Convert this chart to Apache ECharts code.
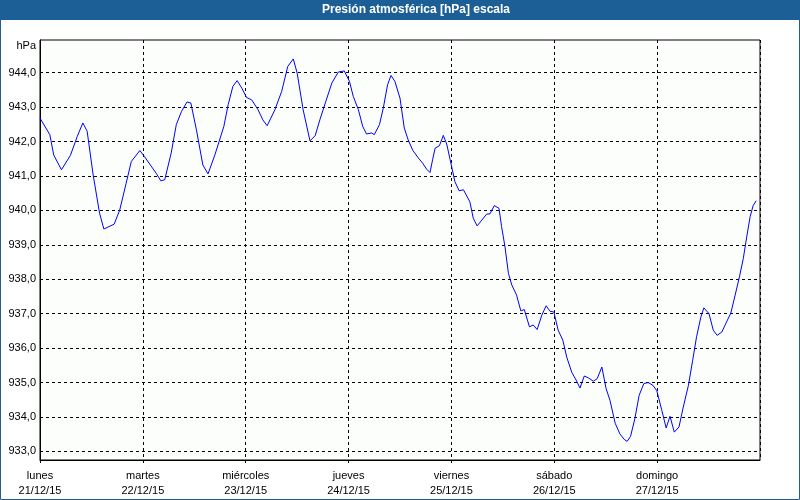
<!DOCTYPE html>
<html>
<head>
<meta charset="utf-8">
<script src="https://cdn.jsdelivr.net/npm/echarts@6/dist/echarts.min.js"></script>
<style>
html,body{margin:0;padding:0;background:#fff;}
#c{width:800px;height:500px;}
</style>
</head>
<body>
<div id="c"></div>
<script>
// Hours since Monday 21/12/15 00:00
var hours = [0, 2.3, 3.2, 5.0, 7.1, 8.7, 10.0, 11.0, 12.4, 13.9, 14.9, 17.3, 18.6, 20.1, 21.3, 23.3, 24.4, 27.1, 28.2, 29.1, 30.6, 31.8, 33.0, 34.3, 35.2, 36.5, 38.0, 39.2, 40.8, 42.9, 43.9, 45.0, 46.0, 47.1, 48.2, 49.4, 50.9, 52.0, 53.0, 54.8, 56.4, 57.8, 59.1, 60.0, 61.4, 63.0, 64.2, 65.3, 66.7, 68.1, 69.6, 71.0, 72.2, 73.1, 74.3, 75.3, 76.2, 77.4, 78.0, 79.2, 80.1, 81.1, 81.9, 82.8, 84.0, 85.0, 85.9, 87.0, 88.3, 89.3, 90.2, 91.0, 91.6, 92.2, 93.2, 94.1, 94.9, 95.7, 96.8, 97.8, 98.8, 100.3, 101.1, 102.0, 103.1, 104.2, 105.0, 106.0, 107.1, 107.7, 108.5, 109.3, 110.1, 111.2, 112.2, 113.0, 114.2, 115.1, 116.0, 117.1, 118.1, 119.0, 119.9, 120.9, 122.0, 122.9, 124.1, 125.1, 126.0, 127.0, 127.9, 129.1, 130.0, 131.1, 132.1, 133.0, 134.2, 135.3, 136.3, 137.0, 137.8, 138.8, 139.8, 140.9, 141.9, 143.0, 143.9, 145.1, 146.1, 147.0, 148.0, 149.1, 150.1, 151.3, 152.3, 153.2, 154.2, 154.9, 156.1, 157.1, 158.0, 159.1, 160.2, 161.2, 162.2, 163.2, 164.1, 164.9, 165.7, 166.4, 167.1];
var pressure = [942.68, 942.20, 941.61, 941.18, 941.60, 942.15, 942.54, 942.30, 941.03, 939.92, 939.46, 939.60, 940.01, 940.79, 941.42, 941.74, 941.56, 941.08, 940.86, 940.89, 941.66, 942.49, 942.87, 943.15, 943.12, 942.34, 941.32, 941.06, 941.61, 942.44, 943.07, 943.60, 943.77, 943.55, 943.28, 943.21, 942.92, 942.63, 942.46, 942.92, 943.46, 944.18, 944.40, 943.99, 942.92, 942.02, 942.17, 942.63, 943.17, 943.70, 944.02, 944.05, 943.75, 943.31, 942.92, 942.44, 942.22, 942.25, 942.20, 942.49, 942.97, 943.65, 943.92, 943.75, 943.26, 942.39, 942.05, 941.74, 941.52, 941.37, 941.20, 941.10, 941.47, 941.81, 941.88, 942.18, 941.93, 941.47, 940.84, 940.57, 940.60, 940.25, 939.77, 939.55, 939.72, 939.89, 939.90, 940.14, 940.06, 939.53, 938.94, 938.17, 937.83, 937.54, 937.08, 937.12, 936.62, 936.67, 936.54, 936.96, 937.23, 937.07, 937.05, 936.52, 936.23, 935.74, 935.29, 935.07, 934.84, 935.19, 935.14, 935.04, 935.11, 935.45, 934.82, 934.48, 933.82, 933.51, 933.35, 933.29, 933.44, 933.95, 934.63, 934.97, 935.00, 934.92, 934.77, 934.19, 933.68, 934.02, 933.56, 933.71, 934.29, 934.92, 935.65, 936.33, 936.90, 937.17, 937.00, 936.52, 936.37, 936.47, 936.76, 937.02, 937.54, 938.07, 938.60, 939.23, 939.82, 940.14, 940.28];
var dayNames = ['lunes', 'martes', 'miércoles', 'jueves', 'viernes', 'sábado', 'domingo'];
var dayDates = ['21/12/15', '22/12/15', '23/12/15', '24/12/15', '25/12/15', '26/12/15', '27/12/15'];
var yTicks = [933, 934, 935, 936, 937, 938, 939, 940, 941, 942, 943, 944];
var titleText = 'Presión atmosférica [hPa] escala';
var unitText = 'hPa';

var FONT = '"Liberation Sans", Arial, sans-serif';
var chart = echarts.init(document.getElementById('c'), null, {renderer: 'canvas'});
var seriesData = hours.map(function (h, i) { return [h, pressure[i]]; });

chart.setOption({
  animation: false,
  backgroundColor: '#ffffff',
  grid: {
    left: 40, right: 40, top: 40, bottom: 40,
    show: true, backgroundColor: '#fcfefc', borderColor: '#000', borderWidth: 1
  },
  xAxis: {
    type: 'value',
    min: 0, max: 168, interval: 24,
    axisLine: {show: true, lineStyle: {color: '#000', width: 1}},
    axisTick: {show: true, length: 3, lineStyle: {color: '#000'}},
    splitLine: {show: true, lineStyle: {color: '#000', type: [3, 3], width: 1}},
    axisLabel: {
      color: '#000', fontFamily: FONT, fontSize: 11, lineHeight: 15, margin: 8,
      showMaxLabel: false,
      formatter: function (v) {
        var i = Math.round(v / 24);
        if (i < 0 || i >= dayNames.length) return '';
        return dayNames[i] + '\n' + dayDates[i];
      }
    }
  },
  yAxis: {
    type: 'value',
    min: 932.75, max: 944.95,
    axisLine: {show: true, lineStyle: {color: '#000', width: 1}},
    axisTick: {show: false, customValues: yTicks},
    splitLine: {show: true, lineStyle: {color: '#000', type: [3, 3], width: 1}},
    axisLabel: {
      customValues: yTicks,
      color: '#000', fontFamily: FONT, fontSize: 11, margin: 4,
      formatter: function (v) { return v.toFixed(1).replace('.', ','); }
    }
  },
  series: [{
    type: 'line',
    data: seriesData,
    showSymbol: false,
    symbol: 'none',
    lineStyle: {color: '#0000ff', width: 1},
    silent: true
  }],
  graphic: [
    {type: 'rect', shape: {x: 0, y: 0, width: 800, height: 20}, style: {fill: '#1c5f96'}, z: 10},
    {type: 'text', x: 416, y: 10, style: {text: titleText, fill: '#fff', font: 'bold 12px ' + FONT, textAlign: 'center', textVerticalAlign: 'middle'}, z: 11},
    {type: 'rect', shape: {x: 0.5, y: 0.5, width: 799, height: 499}, style: {fill: null, stroke: '#1c5f96', lineWidth: 1}, z: 9},
    {type: 'text', x: 36, y: 46, style: {text: unitText, fill: '#000', font: '11px ' + FONT, textAlign: 'right', textVerticalAlign: 'middle'}, z: 11}
  ]
});
</script>
</body>
</html>
